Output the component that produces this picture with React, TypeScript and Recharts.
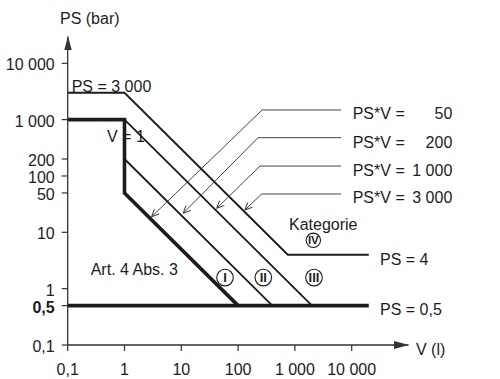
import { LineChart, Line, XAxis, YAxis, ReferenceDot } from 'recharts';

// axis ticks (V in litres, PS in bar)
const V_TICKS = [0.1, 1, 10, 100, 1000, 10000];
const V_TICK_LABELS = ['0,1', '1', '10', '100', '1 000', '10 000'];
const PS_TICKS = [0.1, 0.5, 1, 10, 50, 100, 200, 1000, 10000];
const PS_TICK_LABELS = ['0,1', '0,5', '1', '10', '50', '100', '200', '1 000', '10 000'];

// category boundaries
const ART4_LIMIT = [{ v: 0.1, ps: 1000 }, { v: 1, ps: 1000 }, { v: 1, ps: 50 }, { v: 100, ps: 0.5 }];
const PS_MIN = [{ v: 0.1, ps: 0.5 }, { v: 20000, ps: 0.5 }];
const PSV_200 = [{ v: 1, ps: 200 }, { v: 400, ps: 0.5 }];
const PSV_1000 = [{ v: 1, ps: 1000 }, { v: 2000, ps: 0.5 }];
const PSV_3000 = [{ v: 0.1, ps: 3000 }, { v: 1, ps: 3000 }, { v: 750, ps: 4 }, { v: 20000, ps: 4 }];

// leader lines: label end -> corner -> arrow tip
const LEADER_50 = [{ v: 6500, ps: 1483 }, { v: 264, ps: 1483 }, { v: 3, ps: 18.9 }];
const LEADER_200 = [{ v: 6500, ps: 478 }, { v: 224, ps: 478 }, { v: 10.8, ps: 21.8 }];
const LEADER_1000 = [{ v: 6500, ps: 150 }, { v: 243, ps: 150 }, { v: 42, ps: 26.7 }];
const LEADER_3000 = [{ v: 6500, ps: 47.9 }, { v: 260, ps: 47.9 }, { v: 132, ps: 24.9 }];
const LEADERS = [LEADER_50, LEADER_200, LEADER_1000, LEADER_3000];
const LEADER_LABELS = ['50', '200', '1 000', '3 000'];

// circled category numbers
const CATEGORIES = [
  { name: 'I', v: 58.8, ps: 1.57 },
  { name: 'II', v: 278, ps: 1.57 },
  { name: 'III', v: 2170, ps: 1.57 },
  { name: 'IV', v: 2110, ps: 7.2 },
];

const FONT = "'Liberation Sans', Arial, Helvetica, sans-serif";
const INK = '#1c1c1c';

function YTick(props: any) {
  const { x, y, payload } = props;
  const i = PS_TICKS.indexOf(payload.value);
  return (
    <text x={x} y={y + 7} textAnchor="end" fontSize={16} fontFamily={FONT} fill={INK}
      fontWeight={payload.value === 0.5 ? 'bold' : 'normal'}>
      {PS_TICK_LABELS[i]}
    </text>
  );
}

function XTick(props: any) {
  const { x, y, payload } = props;
  const i = V_TICKS.indexOf(payload.value);
  return (
    <text x={x} y={y + 11.5} textAnchor="middle" fontSize={16} fontFamily={FONT} fill={INK}>
      {V_TICK_LABELS[i]}
    </text>
  );
}

function ArrowDot(props: any) {
  const { cx, cy, index } = props;
  if (index !== 2) return <g key={index} />;
  return (
    <path key={index} d={`M${cx + 7.6} ${cy - 2.8} L${cx} ${cy} L${cx + 2.8} ${cy - 7.6}`}
      fill="none" stroke="#333" strokeWidth={1} />
  );
}

export default function App() {
  const txt = { fontSize: 16, fontFamily: FONT, fill: INK };
  const rows = [119.3, 147.7, 175.7, 202.7];
  return (
    <div style={{ position: 'absolute', left: 0, top: 0, width: 500, height: 379, background: '#fff' }}>
      <LineChart width={500} height={379} margin={{ top: 36.4, right: 91.5, bottom: 4, left: 7.7 }}>
        <XAxis dataKey="v" type="number" scale="log" domain={[0.1, 100000]} ticks={V_TICKS} interval={0}
          allowDataOverflow tick={<XTick />} tickSize={6} tickMargin={12} height={30}
          axisLine={{ stroke: '#333', strokeWidth: 1.3 }} tickLine={{ stroke: '#333', strokeWidth: 1.2 }} />
        <YAxis dataKey="ps" type="number" scale="log" domain={[0.1, 30000]} ticks={PS_TICKS} interval={0}
          allowDataOverflow tick={<YTick />} tickSize={6} tickMargin={7} width={60}
          axisLine={{ stroke: '#333', strokeWidth: 1.3 }} tickLine={{ stroke: '#333', strokeWidth: 1.2 }} />
        {LEADERS.map((d, i) => (
          <Line key={'l' + i} data={d} dataKey="ps" stroke="#444" strokeWidth={1} dot={<ArrowDot />}
            activeDot={false} isAnimationActive={false} />
        ))}
        <Line data={PSV_200} dataKey="ps" stroke={INK} strokeWidth={1.8} dot={false} activeDot={false} isAnimationActive={false} />
        <Line data={PSV_1000} dataKey="ps" stroke={INK} strokeWidth={1.8} dot={false} activeDot={false} isAnimationActive={false} />
        <Line data={PSV_3000} dataKey="ps" stroke={INK} strokeWidth={1.8} dot={false} activeDot={false} isAnimationActive={false} />
        <Line data={ART4_LIMIT} dataKey="ps" stroke={INK} strokeWidth={3.6} dot={false} activeDot={false} isAnimationActive={false} />
        <Line data={PS_MIN} dataKey="ps" stroke={INK} strokeWidth={3.6} dot={false} activeDot={false} isAnimationActive={false} />
        {CATEGORIES.map((c) => (
          <ReferenceDot key={c.name} x={c.v} y={c.ps} r={c.name === 'IV' ? 7.2 : 8.3} fill="#fff" stroke={INK}
            strokeWidth={1.1} ifOverflow="visible"
            label={{ value: c.name, position: 'center', fontSize: c.name === 'IV' ? 11.5 : 13, fontWeight: 'bold', fontFamily: FONT, fill: INK }} />
        ))}
      </LineChart>
      <svg width={500} height={379} style={{ position: 'absolute', left: 0, top: 0, pointerEvents: 'none' }}>
        <polygon points="68,36 64.3,50 71.7,50" fill="#333" />
        <polygon points="409,345 394,341 394,349" fill="#333" />
        <text x={60} y={23.7} {...txt}>PS (bar)</text>
        <text x={416} y={354.5} {...txt}>V (l)</text>
        <text x={71.7} y={91.7} {...txt}>PS = 3 000</text>
        <text x={107} y={141.7} {...txt}>V = 1</text>
        <text x={90.7} y={275} {...txt}>Art. 4 Abs. 3</text>
        <text x={289} y={230} {...txt}>Kategorie</text>
        <text x={380} y={264.7} {...txt}>PS = 4</text>
        <text x={380} y={314.5} {...txt}>PS = 0,5</text>
        {LEADER_LABELS.map((l, i) => (
          <g key={l}>
            <text x={352.7} y={rows[i]} {...txt}>PS*V =</text>
            <text x={452.3} y={rows[i]} textAnchor="end" {...txt}>{l}</text>
          </g>
        ))}
      </svg>
    </div>
  );
}
